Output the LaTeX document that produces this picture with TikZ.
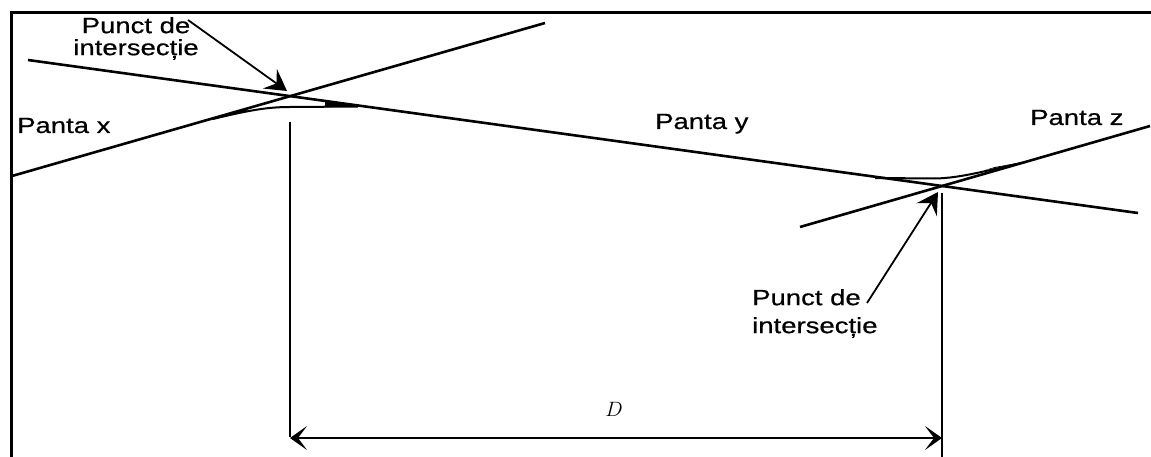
\documentclass[tikz,border=0pt]{standalone}
\usepackage{fontspec}
\setmainfont{Liberation Sans}
\newfontfamily\labfont[FakeStretch=1.25,FakeBold=0.6]{Liberation Sans}
\usetikzlibrary{arrows.meta}
\tikzset{
  frameline/.style={line width=3pt},
  gradeline/.style={line width=2.6pt},
  curveline/.style={line width=2pt},
  vline/.style={line width=2pt},
  wedge/.style={fill=black},
  lab/.style={inner sep=0pt, font=\labfont\fontsize{22}{22}\selectfont},
  pointer/.style={line width=1.8pt, -{Stealth[length=21pt,width=24pt,inset=8pt]}},
  dimarrow/.style={line width=2.4pt, {Stealth[length=17pt,width=24pt,inset=9pt]}-{Stealth[length=17pt,width=24pt,inset=9pt]}}
}
\begin{document}
\begin{tikzpicture}[x=1pt,y=-1pt]
\useasboundingbox (0,0) rectangle (1151,457);
% frame
\draw[frameline] (11,457) -- (11,13) -- (1151,13);
% intersection points
\coordinate (I1) at (290,96);
\coordinate (I2) at (942,186);
% grade lines
\coordinate (xa) at (12,176);
\coordinate (xb) at (545,23);
\coordinate (ya) at (28,60);
\coordinate (yb) at (1138,213);
\coordinate (za) at (800,227);
\coordinate (zb) at (1150,126);
\draw[gradeline] (xa) -- (xb);
\draw[gradeline] (ya) -- (yb);
\draw[gradeline] (za) -- (zb);
% vertical curves
\coordinate (c1a) at (213,119);
\coordinate (c1m) at (290,107);
\coordinate (c1b) at (358,106.5);
\coordinate (c2a) at (875,178);
\coordinate (c2m) at (935,178.5);
\coordinate (c2b) at (1026,162);
\draw[curveline] (c1a) .. controls (250,110) and (268,107) .. (c1m) -- (c1b);
\draw[curveline] (c2a) -- (c2m) .. controls (962,178) and (988,170) .. (c2b);
% tapering wedges where the curves meet the grades
\fill[wedge] (213,118) -- (248,108.5) -- (246,112) -- cycle;
\fill[wedge] (325,101.5) -- (358,105.5) -- (325,107.5) -- cycle;
\fill[wedge] (875,176.5) -- (900,180) -- (900,177.8) -- cycle;
\fill[wedge] (985,170) -- (1026,161.5) -- (995,167) -- cycle;
% verticals
\coordinate (v1t) at (290,122);
\coordinate (v1b) at (290,437);
\coordinate (v2t) at (942,193);
\coordinate (v2b) at (942,457);
\draw[vline] (v1t) -- (v1b);
\draw[vline] (v2t) -- (v2b);
% dimension
\coordinate (d1) at (290,438);
\coordinate (d2) at (942,438);
\draw[dimarrow] (d1) -- (d2);
\node (D) at (614,409) {\fontsize{20}{20}\selectfont$D$};
% labels
\node[lab, anchor=base west] (px) at (17,133) {Panta x};
\node[lab, anchor=base west] (py) at (655,129) {Panta y};
\node[lab, anchor=base west] (pz) at (1030,125) {Panta z};
\node[lab, anchor=north, align=center] (pi1) at (136,17) {Punct de\\intersecție};
\node[lab, anchor=north west, align=left] (pi2) at (752,289) {Punct de\\[6pt]intersecție};
% pointers
\coordinate (s1) at (188,20);
\coordinate (t1) at (287,91);
\coordinate (s2) at (867,303);
\coordinate (t2) at (938,192);
\draw[pointer] (s1) -- (t1);
\draw[pointer] (s2) -- (t2);
\end{tikzpicture}
\end{document}
